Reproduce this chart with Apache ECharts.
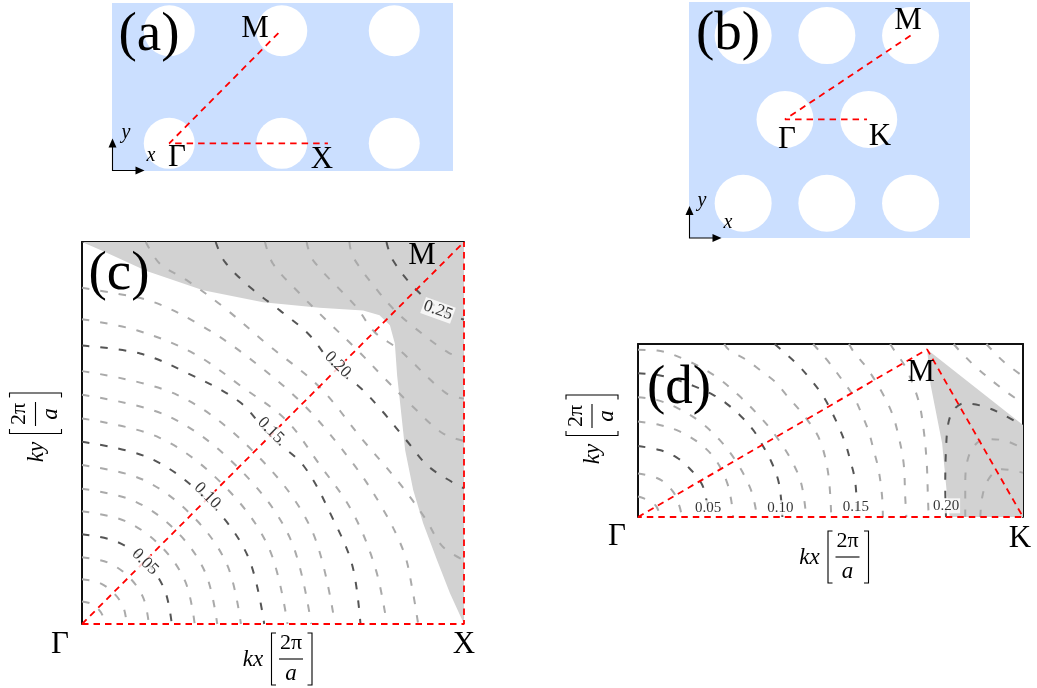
<!DOCTYPE html>
<html><head><meta charset="utf-8">
<style>html,body{margin:0;padding:0;background:#fff}#c{width:1037px;height:688px}</style>
<script src="https://cdn.jsdelivr.net/npm/echarts@6/dist/echarts.min.js"></script>
</head><body><div id="c"></div>
<script>
// Panel (a) lattice, in lattice constants
const holesA=[[0,0],[1,0],[2,0],[0,1],[1,1],[2,1]];
const pathA=[[0.97,0.98],[0,0],[1.41,0]];
// Panel (b) lattice
const holesB=[[-0.5,1],[0.5,1],[1.5,1],[0,0],[1,0],[-0.5,-1],[0.5,-1],[1.5,-1]];
const pathB=[[1.5,1],[0,0],[0.98,0]];
// Panel (c): iso-frequency contours, kx / ky normalised to the X point
const c01=[[0,.059],[.022,.054],[.041,.041],[.054,.022],[.059,0]];
const c02=[[0,.117],[.045,.108],[.082,.082],[.108,.045],[.117,0]];
const c03=[[0,.175],[.067,.161],[.123,.123],[.161,.067],[.175,0]];
const c04=[[0,.235],[.090,.216],[.165,.165],[.216,.090],[.235,0]];
const c05=[[0,.295],[.112,.270],[.205,.205],[.270,.112],[.295,0]];
const c06=[[0,.354],[.134,.323],[.245,.245],[.323,.134],[.354,0]];
const c07=[[0,.416],[.157,.379],[.286,.286],[.379,.157],[.416,0]];
const c08=[[0,.477],[.180,.433],[.326,.326],[.433,.180],[.477,0]];
const c09=[[0,.538],[.202,.488],[.367,.367],[.488,.202],[.538,0]];
const c10=[[0,.600],[.226,.544],[.409,.409],[.544,.226],[.600,0]];
const c11=[[0,.662],[.249,.600],[.450,.450],[.600,.249],[.662,0]];
const c12=[[0,.729],[.152,.708],[.273,.658],[.413,.581],[.492,.492],[.581,.413],[.658,.273],[.708,.152],[.729,0]];
const c13=[[0,.798],[.143,.769],[.293,.708],[.420,.620],[.534,.534],[.620,.420],[.708,.293],[.769,.143],[.798,0]];
const c14=[[0,.880],[.09,.865],[.187,.843],[.304,.786],[.422,.708],[.577,.577],[.708,.422],[.786,.304],[.843,.187],[.865,.09],[.880,0]];
const c15=[[.167,1],[.204,.943],[.274,.90],[.37,.83],[.483,.734],[.621,.621],[.734,.483],[.83,.37],[.90,.274],[.943,.204],[1,.167]];
const c16=[[.35,1],[.374,.948],[.444,.878],[.518,.821],[.596,.756],[.666,.666],[.727,.62],[.788,.555],[.849,.481],[.91,.41],[1,.355]];
const c17=[[.479,1],[.50,.943],[.57,.865],[.64,.795],[.719,.719],[.795,.64],[.865,.57],[.943,.50],[1,.479]];
const c18=[[.588,1],[.605,.952],[.718,.83],[.765,.765],[.83,.718],[.952,.605],[1,.59]];
const c19=[[.70,1],[.71,.96],[.78,.865],[.82,.82],[.865,.78],[.96,.71],[1,.70]];
const c20=[[.797,1],[.814,.952],[.875,.875],[.952,.814],[1,.797]];
const contoursC=[c01,c02,c03,c04,c05,c06,c07,c08,c09,c10,c11,c12,c13,c14,c15,c16,c17,c18,c19,c20];
const darkC=[3,7,11,15,19];
const gapC=[[0,1],[.056,.976],[.169,.924],[.317,.874],[.474,.842],[.622,.828],[.736,.821],[.779,.808],[.806,.782],[.819,.734],[.825,.65],[.832,.586],[.846,.455],[.867,.351],[.893,.264],[.929,.168],[.963,.081],[1,0],[1,1]];
const pathC=[[0,0],[1,1]];
const pathC2=[[0,0],[1,0],[1,1]];
const labelsC=['0.05','0.10','0.15','0.20','0.25'];
const labelPosC=[[.165,.163],[.328,.336],[.494,.507],[.669,.679],[.932,.821]];
const labelRotC=[-45,-45,-45,-45,-20];
// Panel (d): contours, kx normalised to the K point
const d01=[[0,.053],[.030,.042],[.048,.027],[.058,0]];
const d02=[[0,.113],[.056,.098],[.091,.066],[.108,.027],[.114,0]];
const d03=[[0,.184],[.056,.174],[.100,.155],[.134,.126],[.165,.087],[.177,.048],[.184,0]];
const d04=[[0,.248],[.056,.239],[.108,.222],[.16,.191],[.199,.152],[.229,.096],[.242,.044],[.247,0]];
const d05=[[0,.311],[.048,.304],[.104,.282],[.160,.248],[.212,.200],[.255,.144],[.290,.079],[.303,.035],[.309,0]];
const d06=[[0,.373],[.048,.369],[.100,.356],[.147,.339],[.195,.317],[.229,.295],[.268,.261],[.299,.226],[.323,.187],[.346,.144],[.364,.096],[.372,.044],[.375,0]];
const d07=[[0,.434],[.05,.432],[.134,.403],[.203,.364],[.26,.317],[.316,.261],[.359,.209],[.398,.148],[.424,.087],[.437,0]];
const d08=[[.224,.449],[.236,.434],[.281,.408],[.316,.382],[.355,.352],[.385,.317],[.437,.256],[.472,.2],[.494,.113],[.502,0]];
const d09=[[.355,.449],[.372,.434],[.411,.399],[.446,.360],[.476,.321],[.496,.287],[.521,.235],[.540,.187],[.552,.144],[.562,.105],[.567,.061],[.569,0]];
const d10=[[.455,.449],[.468,.434],[.498,.399],[.530,.356],[.560,.313],[.582,.265],[.599,.222],[.612,.174],[.625,.122],[.634,.053],[.636,0]];
const d11=[[.548,.449],[.560,.429],[.595,.386],[.630,.330],[.660,.269],[.677,.209],[.690,.139],[.694,.053],[.697,0]];
const d12=[[.655,.449],[.668,.429],[.694,.390],[.728,.304],[.742,.226],[.750,.139],[.753,.053],[.755,0]];
const d13=[[.80,0],[.798,.079],[.80,.174],[.806,.243],[.82,.278],[.846,.295],[.898,.287],[.95,.265],[1,.236]];
const d14=[[.85,0],[.85,.079],[.854,.139],[.872,.183],[.902,.202],[.945,.2],[1,.178]];
const d15=[[.889,0],[.896,.061],[.915,.105],[.945,.124],[1,.115]];
const d16=[[.82,.449],[.833,.434],[.881,.386],[.95,.33],[1,.295]];
const d17=[[.905,.449],[.915,.438],[.95,.403],[1,.365]];
const contoursD=[d01,d02,d03,d04,d05,d06,d07,d08,d09,d10,d11,d12,d13,d14,d15,d16,d17];
const darkD=[2,5,8,12];
const gapD=[[.751,.435],[1,.239],[1,0],[.81,0],[.803,.053],[.79,.191],[.76,.343]];
const pathD=[[0,0],[.751,.435],[1,0],[0,0]];
const labelsD=['0.05','0.10','0.15','0.20'];
const labelPosD=[[.182,.024],[.37,.024],[.566,.027],[.80,.029]];

const SERIF='"Liberation Serif","DejaVu Serif",serif';
const BLUE='#cbdfff', RED='#ff0000', LIGHT='#aaaaaa', DARK='#555555', GAP='#d2d2d2', FRAME='#111';

function ax(i,min,max,extra){return Object.assign({type:'value',gridIndex:i,min,max,
  axisLabel:{show:false},axisTick:{show:false},splitLine:{show:false},axisLine:{show:false}},extra||{});}
const frame={show:true,onZero:false,lineStyle:{color:FRAME,width:2}};
const grid=[
 {left:112,top:3,width:341,height:168,show:true,backgroundColor:BLUE,borderWidth:0},
 {left:689,top:2,width:281,height:236,show:true,backgroundColor:BLUE,borderWidth:0},
 {left:82,top:242,width:382,height:382},
 {left:638,top:344,width:385,height:173}
];
const xAxis=[ax(0,-0.509,2.522),ax(1,-1.147,2.21),
 ax(2,0,1,{position:'top',axisLine:frame}),ax(3,0,1,{position:'top',axisLine:frame})];
const yAxis=[ax(0,-0.246,1.247),ax(1,-1.415,1.401),
 ax(2,0,1,{position:'left',axisLine:frame}),ax(3,0,0.449,{position:'left',axisLine:frame}),
 ax(3,0,0.449,{position:'right',axisLine:frame})];

const series=[];
function holes(i,data,size){series.push({type:'scatter',xAxisIndex:i,yAxisIndex:i,data,symbolSize:size,silent:true,clip:false,
  itemStyle:{color:'#fff',opacity:1},z:2});}
function red(i,data){series.push({type:'line',xAxisIndex:i,yAxisIndex:i,data,showSymbol:false,symbol:'none',clip:false,silent:true,
  lineStyle:{color:RED,width:1.8,type:[6.5,5]},z:6});}
function fill(i,data,color){series.push({type:'custom',xAxisIndex:i,yAxisIndex:i,data,silent:true,clip:false,z:2,
  renderItem(p,api){ if(p.dataIndex!==0) return null;
    return {type:'polygon',shape:{points:data.map(d=>api.coord(d))},style:{fill:color,stroke:null}};}});}
function contours(i,list,dark){list.forEach((data,k)=>{const isD=dark.includes(k);
  series.push({type:'line',xAxisIndex:i,yAxisIndex:i,data,smooth:0.35,showSymbol:false,symbol:'none',silent:true,z:isD?4:3,
   lineStyle:{color:isD?DARK:LIGHT,width:2,type:[7.5,11]}});});}
function labels(i,names,pos,rot,size){series.push({type:'scatter',xAxisIndex:i,yAxisIndex:i,symbolSize:1,silent:true,z:8,
  itemStyle:{color:'transparent'},
  data:names.map((n,k)=>({name:n,value:pos[k],label:{rotate:rot?rot[k]:0}})),
  label:{show:true,position:'inside',formatter:'{b}',fontFamily:SERIF,fontSize:size,color:'#000',backgroundColor:'#fff',padding:[0,1]}});}

holes(0,holesA,51); red(0,pathA);
holes(1,holesB,57); red(1,pathB);
fill(2,gapC,GAP); contours(2,contoursC,darkC); red(2,pathC); red(2,pathC2); labels(2,labelsC,labelPosC,labelRotC,17);
fill(3,gapD,GAP); contours(3,contoursD,darkD); red(3,pathD); labels(3,labelsD,labelPosD,null,15);

// text and annotation helpers
function T(text,x,y,size,italic){return {type:'text',x,y,z:50,silent:true,style:{text,textAlign:'center',textVerticalAlign:'middle',
  fill:'#000',font:(italic?'italic ':'')+size+'px '+SERIF}};}
function L(pts,w,c){return {type:'polyline',z:50,silent:true,shape:{points:pts},style:{stroke:c||'#000',lineWidth:w||1,fill:null}};}
function frac(sym,x,y,rot){return {type:'group',x,y,rotation:rot,z:50,children:[
  T(sym,-38,1,23,true),T('2π',0,-16,22),L([[-12,0],[12,0]],1.1),T('a',0,15,23,true),
  L([[-15,-26],[-19.5,-26],[-19.5,26],[-15,26]],1.1),L([[16.5,-26],[21,-26],[21,26],[16.5,26]],1.1)]};}
function arrows(x,y,len){return [L([[x,y-len+6],[x,y],[x+len-6,y]],1.1),
  {type:'polygon',z:50,silent:true,shape:{points:[[x,y-len-2],[x-4,y-len+7],[x+4,y-len+7]]},style:{fill:'#000'}},
  {type:'polygon',z:50,silent:true,shape:{points:[[x+len+2,y],[x+len-7,y-4],[x+len-7,y+4]]},style:{fill:'#000'}}];}
const graphic=[
 T('(a)',149,36,55),T('(b)',728,35,55),T('(c)',119,275,55),T('(d)',679,389,55),
 T('M',255,29,31),T('Γ',177,158,31),T('X',322,160,31),
 T('M',908,21,31),T('Γ',787,140,31),T('K',880,137,31),
 T('M',422,256,31),T('Γ',60,645,31),T('X',464,645,31),
 T('M',921,373,31),T('Γ',617,537,31),T('K',1020,539,31),
 T('x',151,156,20,true),T('y',126,133,20,true),T('x',728,223,20,true),T('y',702,201,20,true),
 ...arrows(112.5,170.5,30),...arrows(689.5,238,30),
 frac('kx',291,659,0),frac('kx',847.5,557,0),
 frac('ky',35.5,414,Math.PI/2),frac('ky',592,416,Math.PI/2)
];
const chart=echarts.init(document.getElementById('c'),null,{renderer:'canvas'});
chart.setOption({animation:false,backgroundColor:'#fff',grid,xAxis,yAxis,series,graphic:{elements:graphic}});
</script></body></html>
